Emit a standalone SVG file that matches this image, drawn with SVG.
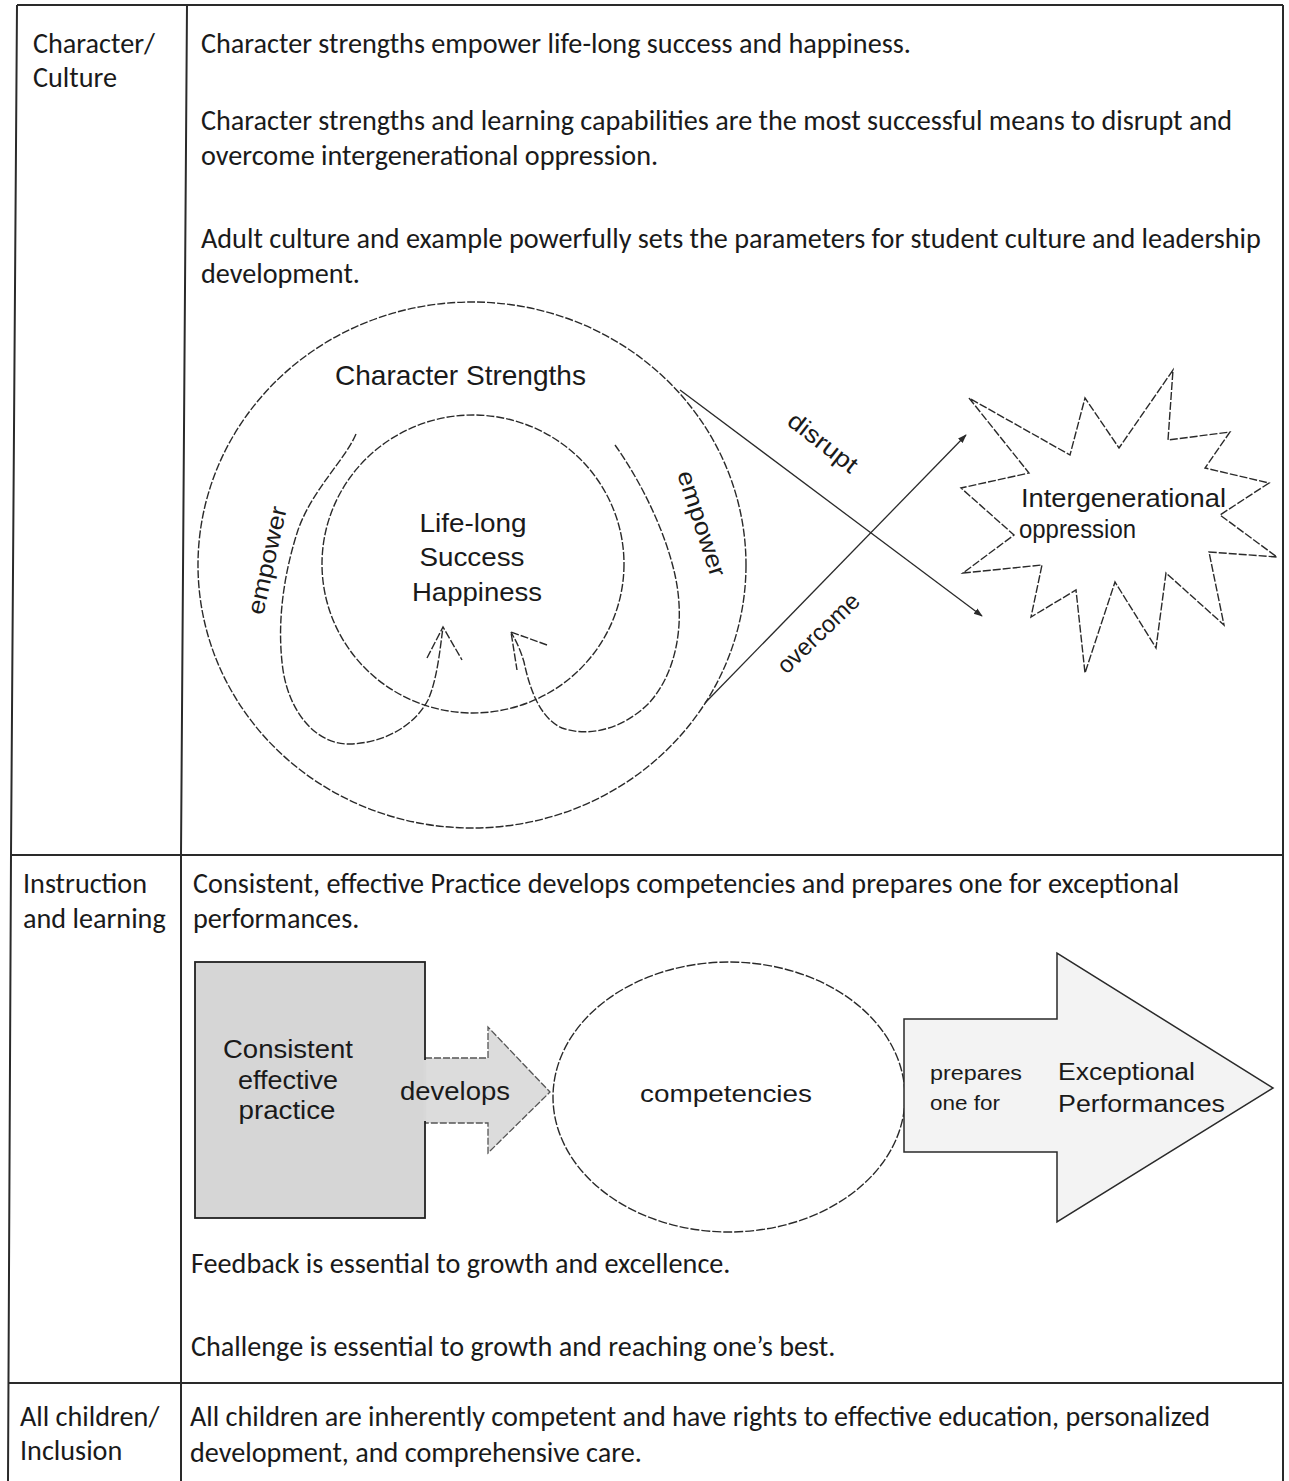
<svg xmlns="http://www.w3.org/2000/svg" width="1289" height="1481" viewBox="0 0 1289 1481">
<style>
.body{font-family:Carlito,Lato,"Open Sans",sans-serif;font-size:28.2px;fill:#1a1a1a}
.dg{font-family:"Liberation Sans",Arial,sans-serif;fill:#1a1a1a}
.tbl{fill:none;stroke:#2a2a2a;stroke-width:2}
.dash{fill:none;stroke:#2a2a2a;stroke-width:1.4;stroke-dasharray:8 2}
.ln{fill:none;stroke:#2a2a2a;stroke-width:1.3}
</style>
<defs>
<marker id="ah" viewBox="0 0 10 10" refX="9" refY="5" markerWidth="9" markerHeight="9" markerUnits="userSpaceOnUse" orient="auto">
<path d="M0,1.5 L10,5 L0,8.5 z" fill="#2a2a2a"/>
</marker>
</defs>
<rect width="1289" height="1481" fill="#ffffff"/>

<g id="table">
<line class="tbl" x1="17" y1="5" x2="1283" y2="5"/>
<line class="tbl" x1="11" y1="855" x2="1283" y2="855"/>
<line class="tbl" x1="9" y1="1383" x2="1283" y2="1383"/>
<polyline class="tbl" points="17,5 11,855 8,1481"/>
<polyline class="tbl" points="187,5 181,855 181,1481"/>
<line class="tbl" x1="1283" y1="5" x2="1283" y2="1481"/>
</g>

<g id="row1-text">
<text class="body" x="33" y="53">Character/</text>
<text class="body" x="33" y="87">Culture</text>
<text class="body" x="201" y="53">Character strengths empower life-long success and happiness.</text>
<text class="body" x="201" y="130">Character strengths and learning capabilities are the most successful means to disrupt and</text>
<text class="body" x="201" y="165">overcome intergenerational oppression.</text>
<text class="body" x="201" y="248">Adult culture and example powerfully sets the parameters for student culture and leadership</text>
<text class="body" x="201" y="283">development.</text>
</g>

<g id="character-strengths">
<ellipse class="dash" cx="472" cy="565" rx="274" ry="263"/>
<text class="dg" x="335" y="385" font-size="28" textLength="251" lengthAdjust="spacingAndGlyphs">Character Strengths</text>
</g>
<g id="life-long-success">
<ellipse class="dash" cx="473" cy="564" rx="151" ry="149"/>
<text class="dg" x="473" y="532" font-size="25" text-anchor="middle" textLength="107" lengthAdjust="spacingAndGlyphs">Life-long</text>
<text class="dg" x="472" y="566" font-size="25" text-anchor="middle" textLength="105" lengthAdjust="spacingAndGlyphs">Success</text>
<text class="dg" x="477" y="601" font-size="25" text-anchor="middle" textLength="130" lengthAdjust="spacingAndGlyphs">Happiness</text>
</g>
<g id="intergenerational-oppression">
<polygon class="dash" points="969,398 1029,473 961,488 1014,535 963,573 1042,565 1031,617 1076,590 1085,673 1115,582 1156,648 1166,573 1224,625 1209,552 1277,557 1220,515 1269,483 1205,468 1230,432 1168,440 1173,370 1119,448 1085,398 1070,455"/>
<text class="dg" x="1021" y="507" font-size="25" textLength="205" lengthAdjust="spacingAndGlyphs">Intergenerational</text>
<text class="dg" x="1019" y="538" font-size="25" textLength="117" lengthAdjust="spacingAndGlyphs">oppression</text>
</g>

<g id="connectors-1">
<path class="dash" d="M356,434 C345,460 312,490 298,530 C285,570 276,620 283,670 C290,715 318,745 350,744 C385,743 415,725 428,700 C437,680 440,650 443,627"/>
<path class="dash" d="M427,658 L443,627 L462,660"/>
<path class="dash" d="M615,445 C640,480 665,530 675,575 C685,620 678,670 650,702 C625,728 590,738 562,728 C540,718 530,690 524,662 C519,645 514,638 511,632"/>
<path class="dash" d="M547,645 L511,632 L517,670"/>
<line class="ln" x1="680" y1="390" x2="982" y2="616" marker-end="url(#ah)"/>
<line class="ln" x1="705" y1="703" x2="966" y2="435" marker-end="url(#ah)"/>
<text class="dg" font-size="24" text-anchor="middle" textLength="110" lengthAdjust="spacingAndGlyphs" transform="translate(275,562) rotate(-77.5)">empower</text>
<text class="dg" font-size="24" text-anchor="middle" textLength="110" lengthAdjust="spacingAndGlyphs" transform="translate(694,526) rotate(72)">empower</text>
<text class="dg" font-size="24" text-anchor="middle" textLength="82" lengthAdjust="spacingAndGlyphs" transform="translate(818,449) rotate(38)">disrupt</text>
<text class="dg" font-size="24" text-anchor="middle" textLength="104" lengthAdjust="spacingAndGlyphs" transform="translate(824,639) rotate(-44)">overcome</text>
</g>

<g id="row2-text">
<text class="body" x="23" y="893">Instruction</text>
<text class="body" x="23" y="928">and learning</text>
<text class="body" x="193" y="893">Consistent, effective Practice develops competencies and prepares one for exceptional</text>
<text class="body" x="193" y="928">performances.</text>
<text class="body" x="191" y="1273">Feedback is essential to growth and excellence.</text>
<text class="body" x="191" y="1356">Challenge is essential to growth and reaching one’s best.</text>
</g>

<g id="consistent-practice">
<path d="M425,1058 L488,1058 L488,1027 L550,1092 L488,1153 L488,1123 L425,1123 Z" fill="#dcdcdc" stroke="#555" stroke-width="1.3" stroke-dasharray="7 2"/>
<rect x="195" y="962" width="230" height="256" fill="#d6d6d6" stroke="#222" stroke-width="1.8"/>
<line x1="425" y1="1060" x2="425" y2="1121" stroke="#d8d8d8" stroke-width="2.5"/>
<text class="dg" x="288" y="1058" font-size="25" text-anchor="middle" textLength="130" lengthAdjust="spacingAndGlyphs">Consistent</text>
<text class="dg" x="288" y="1089" font-size="25" text-anchor="middle" textLength="100" lengthAdjust="spacingAndGlyphs">effective</text>
<text class="dg" x="287" y="1119" font-size="25" text-anchor="middle" textLength="97" lengthAdjust="spacingAndGlyphs">practice</text>
<text class="dg" x="455" y="1100" font-size="25" text-anchor="middle" textLength="110" lengthAdjust="spacingAndGlyphs">develops</text>
</g>
<g id="competencies">
<ellipse class="dash" cx="729" cy="1097" rx="176" ry="135" fill="#ffffff" style="stroke-dasharray:9 2"/>
<text class="dg" x="726" y="1102" font-size="24" text-anchor="middle" textLength="172" lengthAdjust="spacingAndGlyphs">competencies</text>
</g>
<g id="exceptional-performances">
<polygon points="904,1019 1057,1019 1057,953 1273,1088 1057,1222 1057,1152 904,1152" fill="#f3f3f3" stroke="#2a2a2a" stroke-width="1.5"/>
<text class="dg" x="930" y="1080" font-size="20" textLength="92" lengthAdjust="spacingAndGlyphs">prepares</text>
<text class="dg" x="930" y="1110" font-size="20" textLength="70" lengthAdjust="spacingAndGlyphs">one for</text>
<text class="dg" x="1058" y="1080" font-size="23" textLength="137" lengthAdjust="spacingAndGlyphs">Exceptional</text>
<text class="dg" x="1058" y="1112" font-size="23" textLength="167" lengthAdjust="spacingAndGlyphs">Performances</text>
</g>

<g id="row3-text">
<text class="body" x="20" y="1426">All children/</text>
<text class="body" x="20" y="1460">Inclusion</text>
<text class="body" x="190" y="1426">All children are inherently competent and have rights to effective education, personalized</text>
<text class="body" x="190" y="1462">development, and comprehensive care.</text>
</g>
</svg>
